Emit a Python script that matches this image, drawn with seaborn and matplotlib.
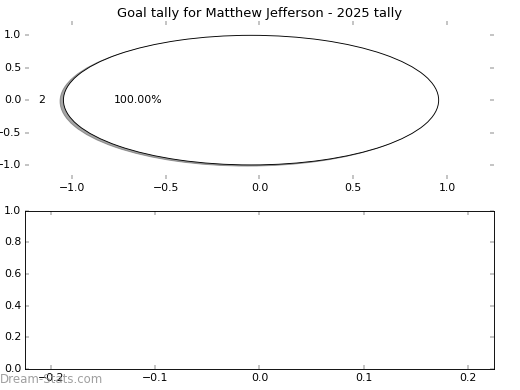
"""
Goal tally pie for a single player, classic matplotlib look
"""
import numpy as np
import pandas as pd
import matplotlib
matplotlib.use("Agg")
import matplotlib.pyplot as plt
import seaborn as sns

# data
player = "Matthew Jefferson"
season = "2025"
goal_labels = ["2"]
goal_counts = [1]
explode_amount = [0.045]

plt.style.use("classic")
plt.rcParams['font.family'] = ['DejaVu Sans']

fig, (ax_pie, ax_empty) = plt.subplots(2, 1, figsize=(8, 6), dpi=65)
fig.subplots_adjust(left=0.048, right=0.95, top=0.946, bottom=0.054, hspace=0.2)

# Pie (not forced round, frame kept so ticks stay)
ax_pie.pie(goal_counts, labels=goal_labels, explode=explode_amount,
           colors=["white"], autopct="%1.2f%%", shadow=True,
           startangle=0, frame=True)
ax_pie.set_aspect("auto")
ax_pie.set_xlim(-1.25, 1.25)
ax_pie.set_ylim(-1.22, 1.22)
ax_pie.set_xticks([-1.0, -0.5, 0.0, 0.5, 1.0])
ax_pie.set_yticks([-1.0, -0.5, 0.0, 0.5, 1.0])
sns.despine(ax=ax_pie, left=True, bottom=True, right=True, top=True)
ax_pie.set_title(f"Goal tally for {player} - {season} tally", fontsize=14.4)

# Empty lower panel
ax_empty.set_xlim(-0.225, 0.225)
ax_empty.set_ylim(0, 1)

fig.text(0.0, 0.01, "Dream-Stats.com", color="#888888", alpha=0.8,
         fontsize=13, ha="left", va="bottom")

plt.savefig("out.png", dpi=65)
